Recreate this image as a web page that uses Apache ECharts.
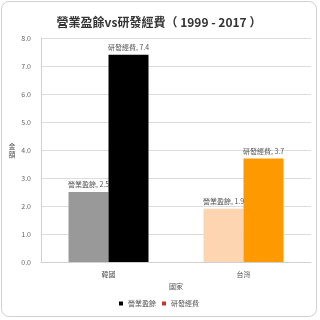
<!DOCTYPE html>
<html><head><meta charset="utf-8">
<script src="https://cdn.jsdelivr.net/npm/echarts@6/dist/echarts.min.js"></script>
<style>
html,body{margin:0;padding:0;background:#fff;}
#c{position:absolute;left:1px;top:1px;width:316px;height:316px;border:1px solid #d0d0d0;border-radius:8px;box-sizing:border-box;}
</style></head>
<body><div id="c"></div>
<script>
const categories = ['韓國', '台灣'];
const seriesNames = ['營業盈餘', '研發經費'];
const operatingSurplus = [2.5, 1.9];
const rdExpense = [7.4, 3.7];
const yTicks = [0, 1, 2, 3, 4, 5, 6, 7, 8];

const font = '"Noto Sans CJK TC", "Noto Sans", sans-serif';
const chart = echarts.init(document.getElementById('c'), null, {renderer: 'canvas'});
const lbl = (name) => ({
  show: true, position: 'top', distance: 4, fontSize: 7, color: '#555', fontFamily: font,
  formatter: p => name + ', ' + p.value
});
chart.setOption({
  animation: false,
  title: {
    text: '營業盈餘vs研發經費（ 1999 - 2017 ）', left: 'center', top: 9,
    textStyle: {fontSize: 12, fontWeight: 'bold', color: '#333', fontFamily: font}
  },
  legend: {
    bottom: 4, left: 'center', itemWidth: 4, itemHeight: 4, itemGap: 6,
    icon: 'rect', textStyle: {fontSize: 7, color: '#555', fontFamily: font},
    data: [{name: seriesNames[0], itemStyle: {color: '#000'}}, {name: seriesNames[1], itemStyle: {color: '#c0392b'}}]
  },
  grid: {left: 39, right: 5, top: 36, bottom: 54},
  xAxis: {
    type: 'category', data: categories, name: '國家', nameLocation: 'middle', nameGap: 19,
    nameTextStyle: {fontSize: 7, color: '#555', fontFamily: font},
    axisLine: {lineStyle: {color: '#d0d0d0'}}, axisTick: {show: false},
    axisLabel: {fontSize: 7, color: '#555', margin: 9, fontFamily: font}
  },
  yAxis: {
    type: 'value', min: yTicks[0], max: yTicks[yTicks.length - 1], interval: 1,
    name: '金\n額', nameLocation: 'middle', nameGap: 18, nameRotate: 0,
    nameTextStyle: {fontSize: 7, color: '#555', fontFamily: font, lineHeight: 8},
    axisLine: {show: true, lineStyle: {color: '#d0d0d0'}}, axisTick: {show: false},
    axisLabel: {fontSize: 7, color: '#666', margin: 10, formatter: v => v.toFixed(1), fontFamily: font},
    splitLine: {lineStyle: {color: '#dcdcdc'}}
  },
  series: [
    {name: seriesNames[0], type: 'bar', barWidth: 40, barGap: '0%',
     data: operatingSurplus.map((v, i) => ({value: v, itemStyle: {color: ['#999999', '#fdd5b1'][i]}})),
     label: lbl(seriesNames[0])},
    {name: seriesNames[1], type: 'bar', barWidth: 40, barGap: '0%',
     data: rdExpense.map((v, i) => ({value: v, itemStyle: {color: ['#000000', '#ff9900'][i]}})),
     label: lbl(seriesNames[1])}
  ]
});
</script></body></html>
